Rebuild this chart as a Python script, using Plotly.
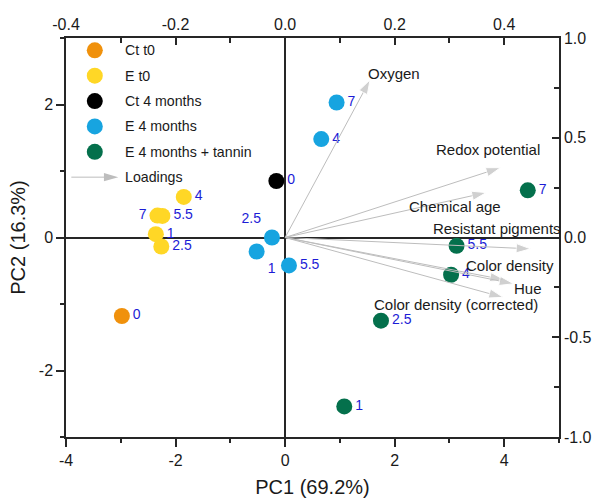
import plotly.graph_objects as go

# ---- PCA scores (bottom / left axes) ----
ct_t0_labels = ["0"]
ct_t0_pc1 = [-2.98]
ct_t0_pc2 = [-1.18]

e_t0_labels = ["1", "2.5", "4", "5.5", "7"]
e_t0_pc1 = [-2.36, -2.26, -1.85, -2.24, -2.33]
e_t0_pc2 = [0.05, -0.135, 0.61, 0.325, 0.33]

ct_4m_labels = ["0"]
ct_4m_pc1 = [-0.16]
ct_4m_pc2 = [0.85]

e_4m_labels = ["1", "2.5", "4", "5.5", "7"]
e_4m_pc1 = [-0.52, -0.24, 0.66, 0.07, 0.94]
e_4m_pc2 = [-0.21, 0.0, 1.48, -0.42, 2.03]

e_4m_tan_labels = ["1", "2.5", "4", "5.5", "7"]
e_4m_tan_pc1 = [1.08, 1.75, 3.03, 3.13, 4.43]
e_4m_tan_pc2 = [-2.54, -1.25, -0.56, -0.125, 0.71]

# ---- PCA loadings (top / right axes) ----
loading_names = ["Oxygen", "Redox potential", "Chemical age", "Resistant pigments",
                 "Color density", "Hue", "Color density (corrected)"]
loading_pc1 = [0.155, 0.393, 0.367, 0.448, 0.400, 0.417, 0.398]
loading_pc2 = [0.79, 0.35, 0.225, -0.057, -0.212, -0.232, -0.30]
# label offsets from the arrow tip (pixels)
loading_dx = [24, -12, -31, -34, 6, 14, -47]
loading_dy = [6, 18, -14, 20, 14, -5, -7]

# ---- tick labels ----
x_ticks = [-4, -2, 0, 2, 4]
y_ticks = [-2, 0, 2]
x2_ticks = [-0.4, -0.2, 0.0, 0.2, 0.4]
y2_ticks = [-1.0, -0.5, 0.0, 0.5, 1.0]

FONT = "Arial, 'Liberation Sans', sans-serif"
AX = "#262626"
LBL = "#1c1cd6"
ARROW = "#bdbdbd"

groups = [
    ("Ct t0", "#f0910c", ct_t0_pc1, ct_t0_pc2, ct_t0_labels, None),
    ("E t0", "#ffd726", e_t0_pc1, e_t0_pc2, e_t0_labels,
     ["middle right", "middle right", "middle right", "middle right", "middle left"]),
    ("Ct 4 months", "#000000", ct_4m_pc1, ct_4m_pc2, ct_4m_labels, None),
    ("E 4 months", "#17a4e0", e_4m_pc1, e_4m_pc2, e_4m_labels,
     ["bottom right", "top left", "middle right", "middle right", "middle right"]),
    ("E 4 months + tannin", "#04704c", e_4m_tan_pc1, e_4m_tan_pc2, e_4m_tan_labels, None),
]

fig = go.Figure()

# loading arrows
for name, lx, ly in zip(loading_names, loading_pc1, loading_pc2):
    fig.add_trace(go.Scatter(
        x=[0, lx], y=[0, ly], xaxis="x2", yaxis="y2",
        mode="lines+markers", showlegend=False, hoverinfo="skip",
        line=dict(color=ARROW, width=1),
        marker=dict(symbol="arrow", size=[0, 15], angleref="previous", color=ARROW),
    ))

# score points
for name, color, xs, ys, labels, pos in groups:
    fig.add_trace(go.Scatter(
        x=xs, y=ys, mode="markers+text", name=name, showlegend=False,
        text=labels, textposition=pos if pos else "middle right",
        textfont=dict(family=FONT, size=14, color=LBL),
        marker=dict(size=16, color=color, line=dict(width=0)),
    ))

annotations = []
for name, lx, ly, dx, dy in zip(loading_names, loading_pc1, loading_pc2, loading_dx, loading_dy):
    annotations.append(dict(
        x=lx, y=ly, xref="x2", yref="y2", text=name, showarrow=False,
        xanchor="center", yanchor="middle", xshift=dx, yshift=dy,
        font=dict(family=FONT, size=15, color="#1a1a1a"),
    ))

# legend (drawn by hand in paper coordinates)
shapes = []
leg_x_marker = 0.0584
leg_x_text = 0.1162
leg_y0 = 0.9692
leg_step = 0.0636
for i, (name, color, *_rest) in enumerate(groups):
    yy = leg_y0 - i * leg_step
    shapes.append(dict(
        type="circle", xref="paper", yref="paper", xsizemode="pixel", ysizemode="pixel",
        xanchor=leg_x_marker, yanchor=yy, x0=-8, x1=8, y0=-8, y1=8,
        fillcolor=color, line=dict(width=0),
    ))
    annotations.append(dict(
        x=leg_x_text, y=yy, xref="paper", yref="paper", text=name, showarrow=False,
        xanchor="left", yanchor="middle",
        font=dict(family=FONT, size=14.2, color="#1a1a1a"),
    ))
yy = leg_y0 - 5 * leg_step
shapes.append(dict(type="line", xref="paper", yref="paper",
                   x0=0.0108, x1=0.08, y0=yy, y1=yy, line=dict(color=ARROW, width=1)))
shapes.append(dict(type="path", xref="paper", yref="paper",
                   path=f"M 0.1061 {yy} L 0.0770 {yy + 0.0105} L 0.0770 {yy - 0.0105} Z",
                   fillcolor=ARROW, line=dict(width=0)))
annotations.append(dict(
    x=leg_x_text, y=yy, xref="paper", yref="paper", text="Loadings", showarrow=False,
    xanchor="left", yanchor="middle",
    font=dict(family=FONT, size=14.2, color="#1a1a1a"),
))

tickfont = dict(family=FONT, size=16, color="#1a1a1a")
common = dict(showline=True, linecolor=AX, linewidth=1.5, showgrid=False, automargin=False,
              tickcolor=AX, tickwidth=1.5, tickfont=tickfont)

fig.update_layout(
    width=597, height=498, autosize=False,
    margin=dict(l=66, r=38, t=38, b=61, pad=0),
    paper_bgcolor="white", plot_bgcolor="white",
    showlegend=False,
    font=dict(family=FONT, color="#1a1a1a"),
    xaxis=dict(range=[-4, 5], tickvals=x_ticks, ticktext=[str(v) for v in x_ticks],
               ticks="outside", ticklen=8,
               minor=dict(tickvals=[-3, -1, 1, 3, 5], ticks="outside", ticklen=4,
                          tickcolor=AX, tickwidth=1.5),
               zeroline=True, zerolinecolor=AX, zerolinewidth=1.5,
               title=dict(text="PC1 (69.2%)", font=dict(family=FONT, size=20), standoff=12),
               **common),
    yaxis=dict(range=[-3, 3], tickvals=y_ticks, ticktext=[str(v) for v in y_ticks],
               ticks="outside", ticklen=8,
               minor=dict(tickvals=[-3, -1, 1, 3], ticks="outside", ticklen=4,
                          tickcolor=AX, tickwidth=1.5),
               zeroline=True, zerolinecolor=AX, zerolinewidth=1.5,
               title=dict(text="PC2 (16.3%)", font=dict(family=FONT, size=20), standoff=8),
               **common),
    xaxis2=dict(overlaying="x", side="top", range=[-0.4, 0.5], tickvals=x2_ticks,
                ticktext=[f"{v:.1f}" for v in x2_ticks], ticks="inside", ticklen=7,
                minor=dict(tickvals=[-0.3, -0.1, 0.1, 0.3, 0.5], ticks="inside", ticklen=5,
                           tickcolor=AX, tickwidth=1.5),
                zeroline=False, **common),
    yaxis2=dict(overlaying="y", side="right", range=[-1, 1], tickvals=y2_ticks,
                ticktext=[f"{v:.1f}" for v in y2_ticks], ticks="inside", ticklen=7,
                minor=dict(tickvals=[-0.75, -0.25, 0.25, 0.75], ticks="inside", ticklen=5,
                           tickcolor=AX, tickwidth=1.5),
                zeroline=False, **common),
    annotations=annotations,
    shapes=shapes,
)

fig.write_html("out.html")
